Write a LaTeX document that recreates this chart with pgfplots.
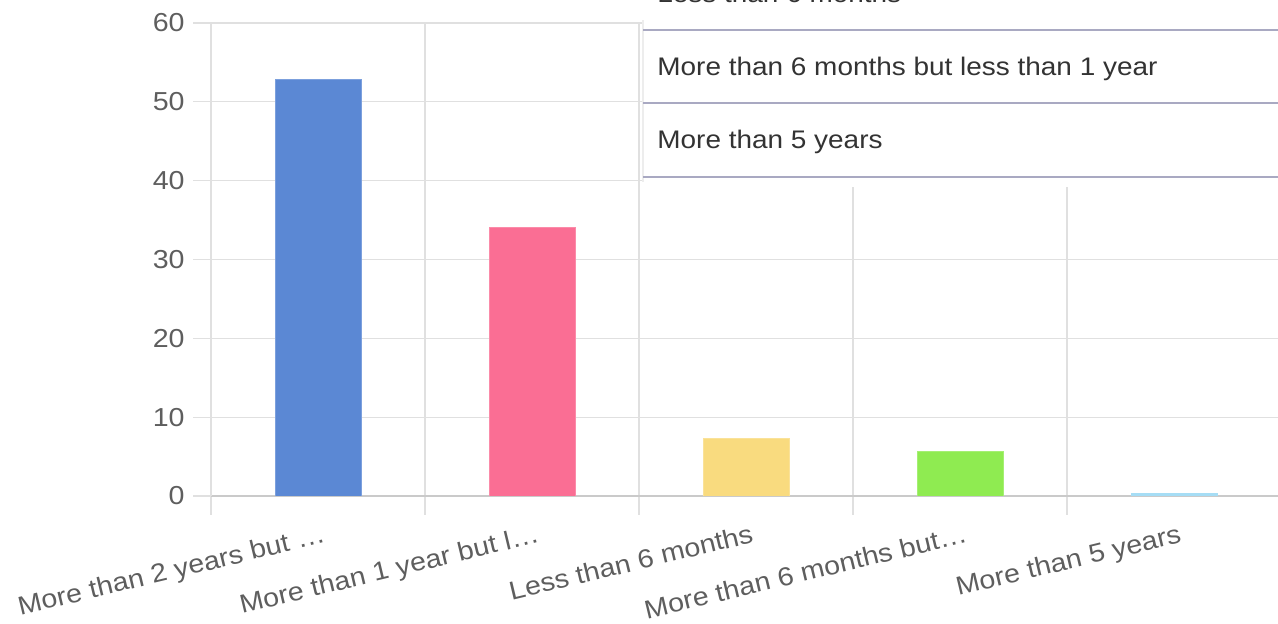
\documentclass[border=0pt]{standalone}
\usepackage{pgfplots}
\pgfplotsset{compat=1.18}
\usepackage{fontspec}
\setmainfont[FakeStretch=1.1]{Liberation Sans}
\definecolor{gridc}{HTML}{E0E0E0}
\definecolor{zeroc}{HTML}{CACACA}
\definecolor{tickc}{HTML}{5E5E5E}
\definecolor{textc}{HTML}{333333}
\definecolor{linec}{HTML}{A9A9C2}
\definecolor{shadowc}{HTML}{EDEDED}
\definecolor{c1}{HTML}{5B88D4}
\definecolor{c2}{HTML}{FA6E94}
\definecolor{c3}{HTML}{F9DB7F}
\definecolor{c4}{HTML}{8FEB51}
\definecolor{c5}{HTML}{A6DDF5}
\begin{document}
\begin{tikzpicture}
\path[use as bounding box] (-105.5pt,-64pt) rectangle (533.5pt,248pt);
\begin{axis}[
  at={(0pt,0pt)}, anchor=south west, scale only axis,
  width=535pt, height=236.5pt,
  xmin=-0.5, xmax=4.5, ymin=0, ymax=60,
  ytick={0,10,...,60},
  xtick={0,...,4},
  xticklabels={More than 2 years but …, More than 1 year but l…, Less than 6 months, More than 6 months but…, More than 5 years},
  minor xtick={-0.5,0.5,...,4.5},
  xminorgrids=true, ymajorgrids=true, xmajorgrids=false,
  grid style={draw=gridc, line width=0.6pt},
  minor grid style={draw=gridc, line width=0.6pt},
  axis x line*=bottom, axis y line*=left,
  x axis line style={draw=zeroc, line width=0.9pt, -},
  y axis line style={draw=gridc, line width=0.9pt, -},
  tick align=outside,
  major tick length=9pt, minor tick length=9.5pt,
  major x tick style={draw=none},
  minor x tick style={draw=gridc, line width=0.6pt},
  ytick style={draw=gridc, line width=0.6pt},
  /pgf/number format/assume math mode=true,
  yticklabel style={font=\fontsize{13}{15}\selectfont, text=tickc, anchor=east, inner sep=0pt, xshift=-4pt},
  xticklabel style={font=\fontsize{13}{15}\selectfont, text=tickc, rotate=13.5, anchor=north east, inner sep=0pt, yshift=-5pt, xshift=1pt},
  ybar,
]
\addplot[bar shift=0pt, bar width=43pt, fill=c1, draw=c1!80!white] coordinates {(0,52.8)};
\addplot[bar shift=0pt, bar width=43pt, fill=c2, draw=c2!80!white] coordinates {(1,34.1)};
\addplot[bar shift=0pt, bar width=43pt, fill=c3, draw=c3!80!white] coordinates {(2,7.3)};
\addplot[bar shift=0pt, bar width=43pt, fill=c4, draw=c4!80!white] coordinates {(3,5.7)};
\addplot[bar shift=0pt, bar width=43pt, fill=c5, draw=c5] coordinates {(4,0.3)};
\end{axis}
\fill[white] (216pt,154.5pt) rectangle (545pt,260pt);
\draw[shadowc, line width=0.8pt] (216pt,157pt) -- (216pt,238pt);
\draw[linec, line width=0.8pt] (216pt,233pt) -- (545pt,233pt);
\draw[linec, line width=0.8pt] (216pt,196.5pt) -- (545pt,196.5pt);
\draw[linec, line width=0.8pt] (216pt,159.5pt) -- (545pt,159.5pt);
\node[anchor=base west, inner sep=0pt, text=textc, font=\fontsize{12.7}{14}\selectfont] at (223pt,246.5pt) {Less than 6 months};
\node[anchor=base west, inner sep=0pt, text=textc, font=\fontsize{12.7}{14}\selectfont] at (223pt,210pt) {More than 6 months but less than 1 year};
\node[anchor=base west, inner sep=0pt, text=textc, font=\fontsize{12.7}{14}\selectfont] at (223pt,173.5pt) {More than 5 years};
\end{tikzpicture}
\end{document}
